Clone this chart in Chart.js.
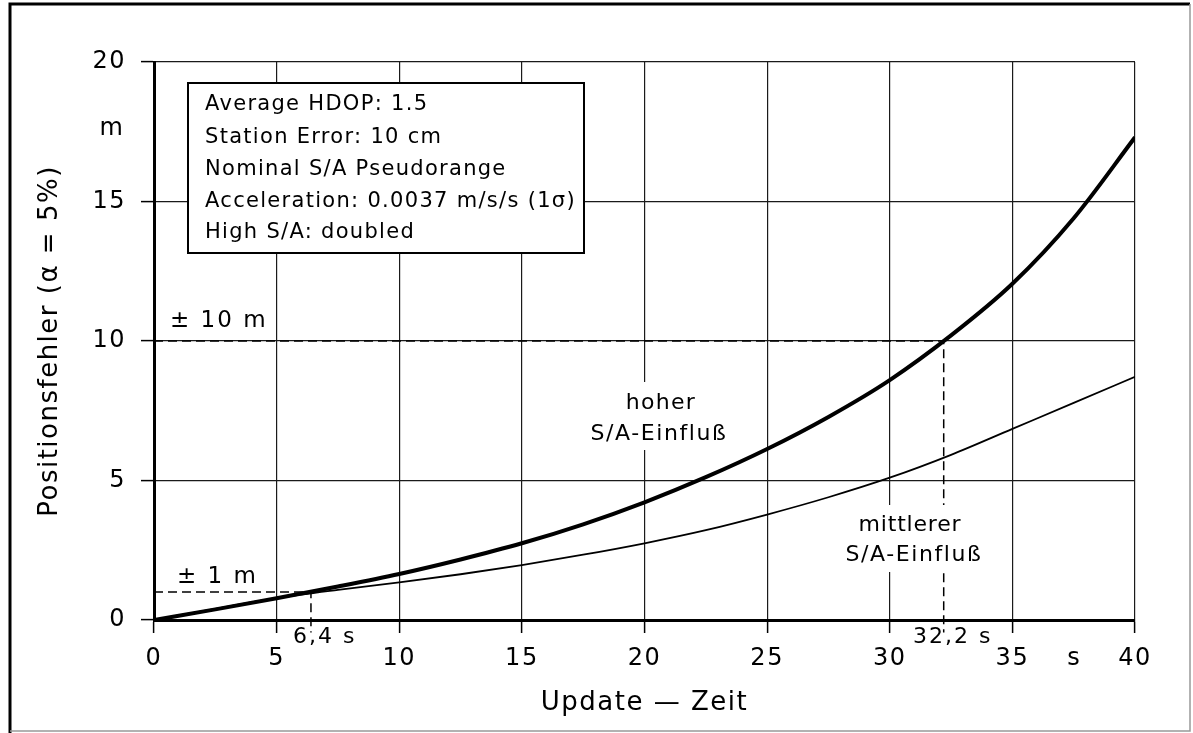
<!DOCTYPE html>
<html><head><meta charset="utf-8">
<script src="https://cdn.jsdelivr.net/npm/chart.js@4.4.1/dist/chart.umd.min.js"></script>
<style>html,body{margin:0;padding:0;background:#fff;}#wrap{width:1193px;height:733px;position:relative;}</style>
</head><body><div id="wrap"><canvas id="c" width="1193" height="733"></canvas></div>
<script>
// ---- data ----
const updateTimes = [0, 2.5, 5, 7.5, 10, 12.5, 15, 17.5, 20, 22.5, 25, 27.5, 30, 32.5, 35, 37.5, 40];
const highSA      = [0, 0.38, 0.78, 1.2, 1.65, 2.17, 2.75, 3.43, 4.22, 5.12, 6.13, 7.28, 8.6, 10.2, 12.05, 14.4, 17.3];
const mediumSA    = [0, 0.4, 0.78, 1.08, 1.35, 1.64, 1.97, 2.34, 2.75, 3.22, 3.78, 4.4, 5.1, 5.92, 6.85, 7.78, 8.72];
const xTickValues = [0, 5, 10, 15, 20, 25, 30, 35, 40];
const yTickValues = [0, 5, 10, 15, 20];
const limitLarge  = [10, 32.2];   // [position error m, update time s]
const limitSmall  = [1, 6.4];
const belowAxis   = -0.45;        // dashed drop lines run slightly below the axis
const infoLines = [
  'Average HDOP: 1.5',
  'Station Error: 10 cm',
  'Nominal S/A Pseudorange',
  'Acceleration: 0.0037 m/s/s (1σ)',
  'High S/A: doubled'
];
const xTitle = 'Update — Zeit';
const yTitle = 'Positionsfehler (α = 5%)';

const FONT = '"DejaVu Sans", sans-serif';
const toXY = (xs, ys) => xs.map((x, i) => ({x, y: ys[i]}));

function txt(ctx, s, x, y, size, align, spacing) {
  ctx.font = size + 'px ' + FONT;
  ctx.letterSpacing = (spacing || 0) + 'px';
  ctx.textAlign = align || 'left';
  ctx.textBaseline = 'alphabetic';
  ctx.fillStyle = '#000';
  ctx.fillText(s, x, y);
}

const deco = {
  id: 'deco',
  beforeDraw(chart) {
    const ctx = chart.ctx;
    ctx.save();
    ctx.fillStyle = '#fff';
    ctx.fillRect(0, 0, chart.width, chart.height);
    // outer frame
    ctx.strokeStyle = '#000';
    ctx.lineWidth = 3;
    ctx.beginPath();
    ctx.moveTo(10, 733); ctx.lineTo(10, 4); ctx.lineTo(1190, 4);
    ctx.stroke();
    ctx.strokeStyle = '#999';
    ctx.lineWidth = 1.5;
    ctx.beginPath();
    ctx.moveTo(1190, 4); ctx.lineTo(1190, 731); ctx.lineTo(10, 731);
    ctx.stroke();
    ctx.restore();
    // spacing for the library-drawn texts (ticks, axis titles)
    ctx.letterSpacing = '1.5px';
  },
  afterDatasetsDraw(chart) {
    const ctx = chart.ctx;
    ctx.save();
    // info box
    ctx.fillStyle = '#fff';
    ctx.fillRect(188, 83, 396, 170);
    ctx.strokeStyle = '#000';
    ctx.lineWidth = 2;
    ctx.strokeRect(188, 83, 396, 170);
    const baselines = [110, 143, 175, 207, 238];
    infoLines.forEach((s, i) => txt(ctx, s, 205, baselines[i], 21, 'left', 1.3));
    // label backgrounds (hide grid behind curve labels)
    ctx.fillStyle = '#fff';
    ctx.fillRect(585, 382, 150, 68);
    ctx.fillRect(848, 505, 152, 67);
    txt(ctx, 'hoher', 661, 409, 22, 'center', 1.3);
    txt(ctx, 'S/A-Einfluß', 659, 440, 22, 'center', 1.6);
    txt(ctx, 'mittlerer', 910, 531, 22, 'center', 0.8);
    txt(ctx, 'S/A-Einfluß', 914, 561, 22, 'center', 1.6);
    // limit labels
    txt(ctx, '± 10 m', 170, 327, 23, 'left', 2);
    txt(ctx, '± 1 m', 177, 583, 23, 'left', 2);
    txt(ctx, '6,4 s', 293, 643, 22, 'left', 2);
    txt(ctx, '32,2 s', 913, 643, 22, 'left', 2);
    // units
    txt(ctx, 'm', 124, 135, 24, 'right', 1);
    txt(ctx, 's', 1074, 665, 24, 'center', 1);
    ctx.restore();
  }
};

const gridCommon = {color: '#1a1a1a', lineWidth: 1.2, drawTicks: true, tickLength: 13, tickColor: '#000', tickWidth: 1.5};

new Chart(document.getElementById('c'), {
  type: 'line',
  data: {
    datasets: [
      {
        label: 'hoher S/A-Einfluß',
        data: toXY(updateTimes, highSA),
        borderColor: '#000', borderWidth: 4, pointRadius: 0,
        cubicInterpolationMode: 'monotone', fill: false
      },
      {
        label: 'mittlerer S/A-Einfluß',
        data: toXY(updateTimes, mediumSA),
        borderColor: '#000', borderWidth: 1.8, pointRadius: 0,
        cubicInterpolationMode: 'monotone', fill: false
      },
      {
        label: '± 10 m',
        data: [{x: 0, y: limitLarge[0]}, {x: limitLarge[1], y: limitLarge[0]}, {x: limitLarge[1], y: belowAxis}],
        borderColor: '#000', borderWidth: 1.5, borderDash: [9, 5], pointRadius: 0,
        tension: 0, clip: false, fill: false
      },
      {
        label: '± 1 m',
        data: [{x: 0, y: limitSmall[0]}, {x: limitSmall[1], y: limitSmall[0]}, {x: limitSmall[1], y: belowAxis}],
        borderColor: '#000', borderWidth: 1.5, borderDash: [9, 5], pointRadius: 0,
        tension: 0, clip: false, fill: false
      }
    ]
  },
  options: {
    responsive: false,
    animation: false,
    events: [],
    layout: {padding: {left: 0, right: 58, top: 62, bottom: 0}},
    plugins: {legend: {display: false}, tooltip: {enabled: false}},
    scales: {
      x: {
        type: 'linear', min: 0, max: 40,
        afterBuildTicks: s => { s.ticks = xTickValues.map(v => ({value: v})); },
        afterFit: s => { s.height = 113; },
        ticks: {color: '#000', font: {family: FONT, size: 24}, padding: 11, maxRotation: 0, autoSkip: false},
        grid: gridCommon,
        border: {display: true, color: '#000', width: 3},
        title: {display: true, text: xTitle, color: '#000', font: {family: FONT, size: 26}, padding: {top: 0, bottom: 14}}
      },
      y: {
        type: 'linear', min: 0, max: 20,
        afterBuildTicks: s => { s.ticks = yTickValues.map(v => ({value: v})); },
        afterFit: s => { s.width = 154; },
        ticks: {color: '#000', font: {family: FONT, size: 24}, padding: 15, autoSkip: false},
        grid: gridCommon,
        border: {display: true, color: '#000', width: 3},
        title: {display: true, text: yTitle, color: '#000', font: {family: FONT, size: 26}, padding: {top: 35, bottom: 0}}
      }
    }
  },
  plugins: [deco]
});
</script>
</body></html>
